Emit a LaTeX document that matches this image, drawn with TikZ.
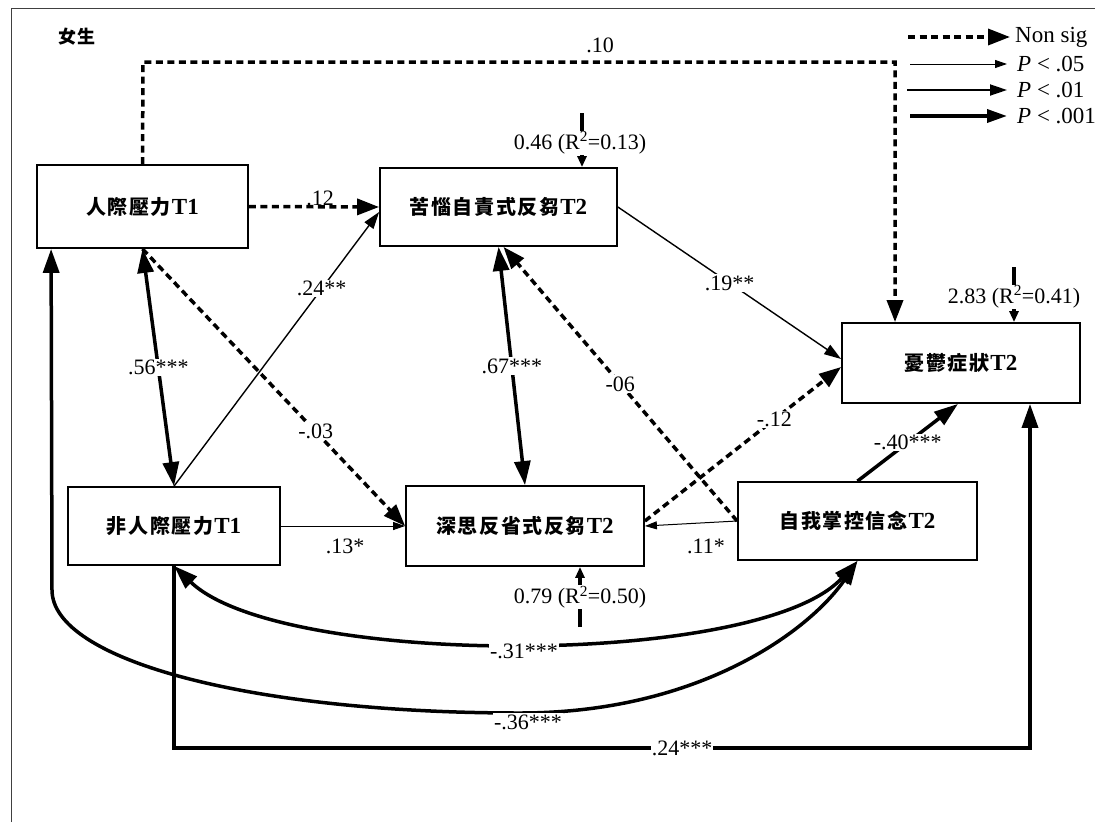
\documentclass[tikz,border=0pt]{standalone}
\usepackage{fontspec}
\setmainfont{Liberation Serif}
\newfontfamily\cjk{Noto Sans CJK TC}
\usetikzlibrary{arrows.meta}
\newcommand\kk{\hspace{1.6pt}}
\newcommand\nt[2]{{\fontsize{20}{23}\selectfont\cjk\bfseries #1}\hspace{1pt}{\fontsize{23}{25}\selectfont\bfseries #2}}
\tikzset{
  box/.style={draw, line width=1.8pt, inner sep=0pt},
  lbl/.style={font=\fontsize{22}{24}\selectfont, inner sep=1.2pt},
  wl/.style={lbl, fill=white},
  leg/.style={font=\fontsize{23}{25}\selectfont, inner sep=0pt, anchor=west},
  ns/.style={line width=3.5pt, dash pattern=on 7pt off 4.5pt, -{Triangle[length=22pt,width=16pt]}},
  pa/.style={line width=1pt, -{Triangle[length=12pt,width=8pt]}},
  pb/.style={line width=1.8pt, -{Triangle[length=17pt,width=11pt]}},
  pc/.style={line width=3.5pt, -{Triangle[length=24pt,width=16pt]}},
  pcc/.style={line width=3.5pt, {Triangle[length=24pt,width=16pt]}-{Triangle[length=24pt,width=16pt]}},
  res/.style={line width=3.5pt, -{Triangle[length=11pt,width=9pt]}}
}
\begin{document}
\begin{tikzpicture}[x=1pt,y=-1pt]
\useasboundingbox (0,0) rectangle (1095,822);
\draw[black!75, line width=1pt] (11,822) -- (11,8) -- (1095,8);
\node[inner sep=0pt, font=\fontsize{18}{20}\selectfont\cjk\bfseries] (title) at (77,37) {女\kk 生};

% boxes
\node[box, minimum width=211pt, minimum height=83pt] (A) at (142.5,206.5) {\nt{人\kk 際\kk 壓\kk 力}{T1}};
\node[box, minimum width=237pt, minimum height=78pt] (B) at (498.5,207) {\nt{苦\kk 惱\kk 自\kk 責\kk 式\kk 反\kk 芻}{T2}};
\node[box, minimum width=212pt, minimum height=78pt] (C) at (174,526) {\nt{非\kk 人\kk 際\kk 壓\kk 力}{T1}};
\node[box, minimum width=238pt, minimum height=80pt] (D) at (961,363) {\nt{憂\kk 鬱\kk 症\kk 狀}{T2}};
\node[box, minimum width=238pt, minimum height=80pt] (E) at (525,526) {\nt{深\kk 思\kk 反\kk 省\kk 式\kk 反\kk 芻}{T2}};
\node[box, minimum width=239pt, minimum height=78pt] (F) at (857.5,521) {\nt{自\kk 我\kk 掌\kk 控\kk 信\kk 念}{T2}};

% top path .10
\coordinate (t1) at (143,62);
\coordinate (t2) at (895,62);
\draw[ns] (A.north) -- (t1) -- (t2) -- (t2 |- D.north);
\node[lbl] (l10) at (600,45) {.10};

% A -> B
\draw[ns] (A.east) -- (B.west);
\node[lbl] (l12) at (320,198) {.12};

% A -> E
\draw[ns] (A.south) -- (E.west) node[wl, pos=0.66] {-.03};

% A <-> C
\draw[pcc] (A.south) -- (C.north) node[wl, midway] {.56***};

% C -> B
\draw[pb, line width=1.4pt] (C.north) -- ([yshift=-5pt]B.west) node[wl, pos=0.72] {.24**};

% C -> E
\draw[pa] (C.east) -- (E.west);
\node[lbl] (l13) at (345,546) {.13*};

% B <-> E
\draw[pcc] (B.south) -- (E.north) node[wl, midway] {.67***};

% B -> D
\draw[pb, line width=1.4pt] (B.east) -- ([yshift=4pt]D.west) node[wl, midway] {.19**};

% F -> B
\draw[ns] (F.west) -- ([xshift=5pt]B.south) node[wl, midway] {-06};

% F -> E
\draw[pa] (F.west) -- (E.east);
\node[lbl] (l11) at (706,546) {.11*};

% E -> D
\draw[ns] ([yshift=5pt]E.east) -- ([yshift=-4pt]D.west) node[wl, pos=0.66] {-.12};

% F -> D
\draw[pc] (F.north) -- ([xshift=-3pt]D.south) node[wl, midway] {-.40***};

% residuals
\coordinate (rB) at (582,113);
\draw[res] (rB) -- (rB |- B.north);
\node[wl] (lrB) at (580,143) {0.46 (R\textsuperscript{2}=0.13)};
\coordinate (rD) at (1014,267);
\draw[res] (rD) -- (rD |- D.north);
\node[wl] (lrD) at (1014,297) {2.83 (R\textsuperscript{2}=0.41)};
\coordinate (rE) at (580,627);
\draw[res] (rE) -- (rE |- E.south);
\node[wl] (lrE) at (580,597) {0.79 (R\textsuperscript{2}=0.50)};

% curves
\draw[pcc] (C.south) .. controls (280,668) and (760,668) .. (F.south);
\node[wl] (l31) at (524,651) {-.31***};
\coordinate (a1) at (52,590);
\coordinate (a2) at (520,713);
\draw[pcc] ([xshift=15pt]A.south west) -- (a1) .. controls (52,660) and (250,713) .. (a2) .. controls (700,713) and (810,630) .. (F.south);
\node[wl] (l36) at (528,722) {-.36***};

% .24***
\coordinate (b1) at (174,748);
\coordinate (b2) at (1030,748);
\draw[pc] (C.south) -- (b1) -- (b2) -- (b2 |- D.south);
\node[wl] (l24) at (682,748) {.24***};

% legend
\coordinate (g1a) at (908,37); \coordinate (g1b) at (1010,37);
\coordinate (g2a) at (910,64); \coordinate (g2b) at (1007,64);
\coordinate (g3a) at (907,90); \coordinate (g3b) at (1007,90);
\coordinate (g4a) at (910,116); \coordinate (g4b) at (1007,116);
\draw[ns] (g1a) -- (g1b);
\draw[pa] (g2a) -- (g2b);
\draw[pb] (g3a) -- (g3b);
\draw[pc, -{Triangle[length=20pt,width=13pt]}] (g4a) -- (g4b);
\node[leg] (n1) at (1015,37) {Non sig};
\node[leg] (n2) at (1017,64) {\textit{P} < .05};
\node[leg] (n3) at (1017,90) {\textit{P} < .01};
\node[leg] (n4) at (1017,116) {\textit{P} < .001};
\end{tikzpicture}
\end{document}
